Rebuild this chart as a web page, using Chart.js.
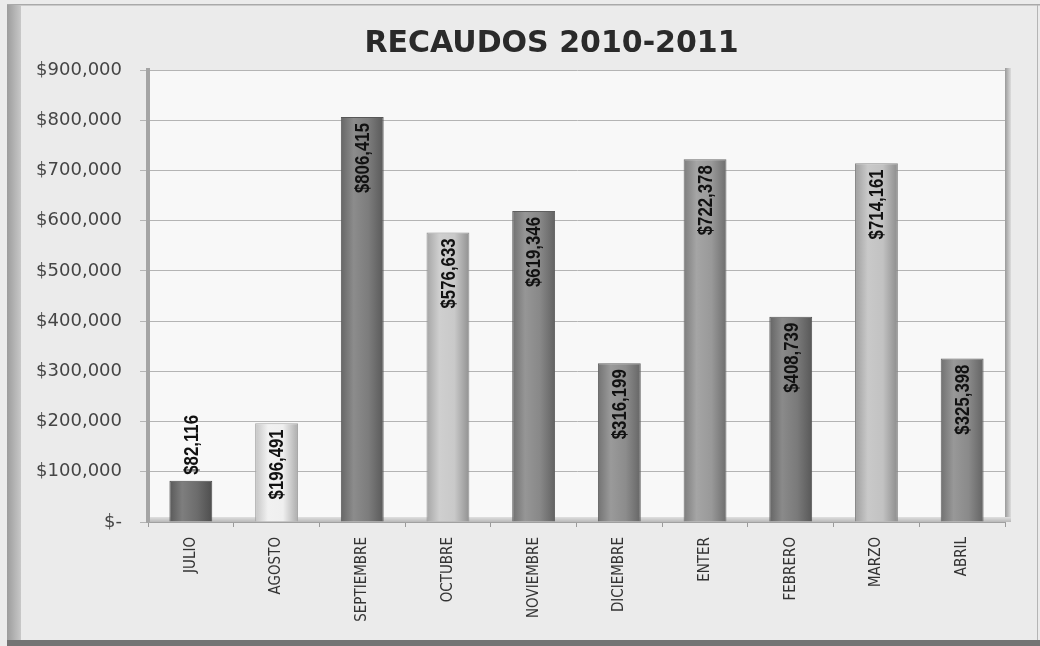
<!DOCTYPE html>
<html><head><meta charset="utf-8">
<script src="https://cdn.jsdelivr.net/npm/chart.js@4.4.0/dist/chart.umd.min.js"></script>
<style>html,body{margin:0;padding:0;background:#ebebeb;}#wrap{width:1040px;height:646px;position:relative;}</style>
</head><body><div id="wrap"><canvas id="c"></canvas></div>
<script>
const months = ['JULIO','AGOSTO','SEPTIEMBRE','OCTUBRE','NOVIEMBRE','DICIEMBRE','ENTER','FEBRERO','MARZO','ABRIL'];
const recaudos = [82116, 196491, 806415, 576633, 619346, 316199, 722378, 408739, 714161, 325398];
const yMin = 0, yMax = 900000, yStep = 100000;
const chartTitle = 'RECAUDOS 2010-2011';
const barColors = ['#6c6c6c','#efefef','#7c7c7c','#c9c9c9','#888888','#8c8c8c','#999999','#7a7a7a','#c2c2c2','#8a8a8a'];

function fmt(v){ return v === 0 ? '$-' : '$' + v.toLocaleString('en-US'); }
function shade(hex, f){
  const n = parseInt(hex.slice(1),16);
  let r=(n>>16)&255,g=(n>>8)&255,b=n&255;
  const m = c => Math.max(0,Math.min(255,Math.round(f>1? c+(255-c)*(f-1) : c*f)));
  return 'rgb('+m(r)+','+m(g)+','+m(b)+')';
}
function barFill(ctx){
  const chart = ctx.chart, i = ctx.dataIndex, base = barColors[i];
  const xs = chart.scales && chart.scales.x;
  if (!xs || !chart.chartArea) return base;
  const cx = xs.getPixelForValue(i);
  const half = xs.width / months.length * 0.5 / 2;
  const g = chart.ctx.createLinearGradient(cx-half,0,cx+half,0);
  g.addColorStop(0, shade(base,0.82));
  g.addColorStop(0.3, shade(base,1.12));
  g.addColorStop(0.65, base);
  g.addColorStop(1, shade(base,0.72));
  return g;
}

const bgPlugin = {
  id:'bg',
  afterLayout(chart){
    const t = chart.titleBlock;
    if (t){ t.left -= 25; t.right -= 25; }
  },
  beforeDraw(chart){
    const {ctx, chartArea:a, width, height} = chart;
    ctx.save();
    ctx.fillStyle = '#ebebeb'; ctx.fillRect(0,0,width,height);
    ctx.fillStyle = '#a9a9a9'; ctx.fillRect(7,4,width-7,1.5);
    let g = ctx.createLinearGradient(7,0,21,0);
    g.addColorStop(0,'#9c9c9c'); g.addColorStop(1,'#c8c8c8');
    ctx.fillStyle = g; ctx.fillRect(7,5,14,height-5);
    ctx.fillStyle = '#747474'; ctx.fillRect(7,height-6,width-7,6);
    ctx.fillStyle = '#b5b5b5'; ctx.fillRect(width-3,5,1,height-11);
    ctx.fillStyle = '#f8f8f8'; ctx.fillRect(a.left,a.top,a.right-a.left,a.bottom-a.top);
    g = ctx.createLinearGradient(a.right,0,a.right+6,0);
    g.addColorStop(0,'#9a9a9a'); g.addColorStop(1,'#dcdcdc');
    ctx.fillStyle = g; ctx.fillRect(a.right,a.top-2,6,a.bottom-a.top+2);
    g = ctx.createLinearGradient(0,a.bottom-5,0,a.bottom);
    g.addColorStop(0,'#e0e0e0'); g.addColorStop(1,'#b8b8b8');
    ctx.fillStyle = g; ctx.fillRect(a.left,a.bottom-5,a.right-a.left+6,5);
    ctx.restore();
  }
};

const labelPlugin = {
  id:'vlabels',
  afterDatasetsDraw(chart){
    const ctx = chart.ctx, meta = chart.getDatasetMeta(0);
    const sx = 0.8;
    ctx.save();
    ctx.font = 'bold 21px "Liberation Sans", Arial, sans-serif';
    ctx.fillStyle = '#111';
    ctx.textBaseline = 'middle';
    meta.data.forEach((bar,i)=>{
      const txt = fmt(recaudos[i]);
      const w = ctx.measureText(txt).width * sx;
      const h = bar.base - bar.y;
      ctx.save();
      ctx.translate(bar.x, bar.y);
      ctx.rotate(-Math.PI/2);
      ctx.scale(sx,1);
      if (h >= w + 12){ ctx.textAlign='right'; ctx.fillText(txt,-6/sx,1); }
      else { ctx.textAlign='left'; ctx.fillText(txt,6/sx,1); }
      ctx.restore();
    });
    ctx.restore();
  }
};

new Chart(document.getElementById('c'), {
  type:'bar',
  data:{ labels: months, datasets:[{ data: recaudos, backgroundColor: barFill,
    borderColor: ctx => shade(barColors[ctx.dataIndex],0.7), borderWidth: 1,
    barPercentage: 0.5, categoryPercentage: 1.0 }]},
  options:{
    responsive:true, maintainAspectRatio:false, animation:false,
    layout:{ padding:{ left:20, right:35, top:0, bottom:8 } },
    plugins:{
      legend:{display:false}, tooltip:{enabled:false},
      title:{ display:true, text: chartTitle, color:'#2a2a2a', fullSize:false,
        font:{ family:'"DejaVu Sans", sans-serif', size:30, weight:'bold', lineHeight:1.2 },
        padding:{ top:26, bottom:8 } }
    },
    scales:{
      x:{
        afterFit(s){ s.height = 116; },
        grid:{ drawOnChartArea:false, drawTicks:true, tickLength:5, color:'#9a9a9a', offset:true },
        border:{ display:true, color:'#a0a0a0', width:1 },
        ticks:{ minRotation:90, maxRotation:90, autoSkip:false, padding:10, color:'#333',
          font:{ family:'"DejaVu Sans Condensed", "DejaVu Sans", sans-serif', size:15 } }
      },
      y:{
        min:yMin, max:yMax,
        afterFit(s){ s.width = 128; },
        grid:{ color:'#b4b4b4', lineWidth:1, tickLength:8, drawTicks:true },
        border:{ display:true, color:'#a4a4a4', width:4 },
        ticks:{ stepSize:yStep, padding:18, color:'#454545', callback: v => fmt(v),
          font:{ family:'"DejaVu Sans", sans-serif', size:18 } }
      }
    }
  },
  plugins:[bgPlugin, labelPlugin]
});
</script></body></html>
